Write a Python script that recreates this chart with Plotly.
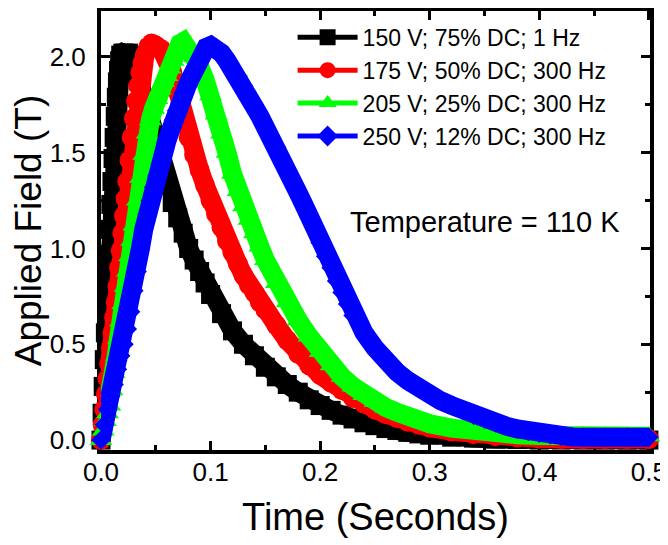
"""
Applied field pulses at 110 K for four drive settings.
"""

import plotly.graph_objects as go


# =============================================================================
# DATA
# =============================================================================

t_black = [0, .001, .002, .003, .004, .005, .006, .007, .008, .009, .010, .011, .012, .013, .014,
           .015, .016, .017, .018, .020, .022, .025, .028, .030, .033, .036, .040, .045,
           .050, .055, .060, .065, .070, .075, .080, .085, .090, .095,
           .10, .11, .12, .13, .14, .15, .16, .17, .18, .19, .20, .21, .22, .23, .24, .25,
           .26, .27, .28, .29, .30, .32, .34, .36, .38, .40, .42, .44, .46, .48, .50]
y_black = [0, .14, .28, .42, .56, .70, .84, .97, 1.10, 1.23, 1.35, 1.47, 1.58, 1.69, 1.79,
           1.87, 1.93, 1.98, 2.01, 2.02, 2.02, 2.02, 2.0, 1.97, 1.91, 1.84, 1.75, 1.63,
           1.52, 1.42, 1.33, 1.24, 1.16, 1.08, 1.0, .94, .88, .82,
           .76, .66, .57, .50, .44, .38, .33, .29, .25, .21, .18, .155, .13, .11, .09, .075,
           .06, .05, .04, .032, .025, .015, .01, .005, .003, 0, 0, 0, 0, 0, 0]

t_red = [0, .0015, .003, .0045, .006, .0075, .009, .0105, .012, .0135, .015, .0165, .018,
         .0195, .021, .0225, .024, .026, .028, .030, .032, .034, .036, .038, .040, .043, .046,
         .050, .055, .060, .065, .070, .075, .080, .085, .090, .095, .100, .105, .110, .115,
         .120, .125, .130, .135, .140, .145, .150,
         .16, .17, .18, .19, .20, .21, .22, .23, .24, .25, .26, .27, .28, .29, .30,
         .32, .34, .36, .38, .40, .42, .44, .46, .48, .50]
y_red = [0, .08, .16, .24, .32, .40, .48, .56, .64, .72, .80, .90, .99,
         1.08, 1.17, 1.26, 1.35, 1.46, 1.58, 1.68, 1.77, 1.85, 1.92, 1.97, 2.01, 2.05, 2.07,
         2.06, 2.04, 2.0, 1.92, 1.82, 1.70, 1.58, 1.49, 1.41, 1.33, 1.25, 1.18, 1.11, 1.04,
         .98, .92, .86, .81, .77, .72, .68,
         .60, .52, .45, .39, .34, .30, .26, .22, .19, .16, .135, .115, .095, .08, .065,
         .045, .03, .02, .013, .008, .005, .005, .005, .005, .005]

t_green = [0, .002, .004, .006, .008, .010, .012, .014, .016, .018, .020, .022, .024, .026,
           .028, .030, .033, .036, .039, .042, .045, .048, .051, .054, .057, .060, .063, .066,
           .069, .072, .075, .078, .081, .085, .090, .095, .100, .105, .110, .115, .120, .125,
           .130, .135, .140, .145, .150,
           .16, .17, .18, .19, .20, .21, .22, .23, .24, .25, .26, .27, .28, .29, .30,
           .32, .34, .36, .38, .40, .42, .44, .46, .48, .50]
y_green = [0, .05, .10, .14, .18, .26, .35, .44, .53, .62, .71, .80, .88, .96,
           1.04, 1.12, 1.25, 1.37, 1.49, 1.60, 1.67, 1.73, 1.78, 1.83, 1.87, 1.90, 1.94, 1.98,
           2.03, 2.07, 2.08, 2.06, 2.03, 2.0, 1.95, 1.88, 1.80, 1.70, 1.60, 1.50, 1.39, 1.30,
           1.22, 1.15, 1.08, 1.01, .94,
           .82, .72, .625, .54, .46, .39, .33, .28, .235, .20, .17, .145, .12, .10, .085,
           .062, .045, .035, .028, .024, .022, .02, .02, .02, .02]

t_blue = [0, .003, .006, .009, .012, .015, .018, .021, .024, .027, .030, .033, .036, .039,
          .042, .045, .048, .051, .054, .057, .060, .063, .066, .069, .072, .075, .078, .081,
          .084, .087, .090, .093, .096, .100,
          .105, .110, .115, .120, .125, .130, .135, .140, .145, .150, .155, .160, .165, .170,
          .175, .180, .185, .190, .195, .200, .205, .210, .215, .220, .225, .230,
          .24, .25, .26, .27, .28, .29, .30, .31, .32, .33, .34, .35, .36, .37, .38, .39,
          .40, .41, .42, .43, .44, .45, .46, .47, .48, .49, .50]
y_blue = [0, .08, .16, .23, .29, .37, .44, .50, .58, .67, .78, .88, 1.0, 1.1,
          1.18, 1.25, 1.32, 1.38, 1.44, 1.50, 1.56, 1.61, 1.67, 1.72, 1.76, 1.80, 1.84, 1.88,
          1.92, 1.95, 1.98, 2.02, 2.05, 2.06,
          2.05, 2.02, 1.98, 1.94, 1.90, 1.85, 1.79, 1.74, 1.69, 1.64, 1.58, 1.53, 1.47, 1.41,
          1.35, 1.29, 1.23, 1.17, 1.10, 1.03, .96, .90, .83, .77, .71, .65,
          .56, .48, .41, .355, .31, .27, .235, .205, .18, .155, .13, .11, .09, .072, .058, .045,
          .035, .027, .02, .016, .015, .015, .015, .015, .015, .015, .015]

series_names = ['150 V; 75% DC; 1 Hz', '175 V; 50% DC; 300 Hz',
                '205 V; 25% DC; 300 Hz', '250 V; 12% DC; 300 Hz']
x_ticks = [0.0, 0.1, 0.2, 0.3, 0.4, 0.5]
y_ticks = [0.0, 0.5, 1.0, 1.5, 2.0]


# =============================================================================
# FIGURE
# =============================================================================

FONT = 'Arial, Liberation Sans, sans-serif'

styles = [
    dict(color='#000000', symbol='square', size=19),
    dict(color='#ff0000', symbol='circle', size=20),
    dict(color='#00ff00', symbol='triangle-up', size=20),
    dict(color='#0000ff', symbol='diamond', size=15),
]
all_data = [(t_black, y_black), (t_red, y_red), (t_green, y_green), (t_blue, y_blue)]

fig = go.Figure()

# dense data -> thick line under the markers so each pulse reads as a solid band
for (t, y), name, st in zip(all_data, series_names, styles):
    fig.add_trace(go.Scatter(
        x=t, y=y, name=name, mode='lines+markers', cliponaxis=False, showlegend=False,
        line=dict(color=st['color'], width=19),
        marker=dict(color=st['color'], symbol=st['symbol'], size=st['size'], line=dict(width=0)),
    ))

# legend entries with the thin line + symbol look
for name, st in zip(series_names, styles):
    fig.add_trace(go.Scatter(
        x=[None], y=[None], name=name, mode='lines+markers',
        line=dict(color=st['color'], width=5),
        marker=dict(color=st['color'], symbol=st['symbol'], size=16, line=dict(width=0)),
    ))

fig.add_annotation(x=0.35, y=1.14, xref='x', yref='y', text='Temperature = 110 K',
                   showarrow=False, font=dict(family=FONT, size=29, color='black'))

axis_common = dict(
    showline=True, linewidth=4, linecolor='black', mirror='allticks',
    ticks='inside', ticklen=9, tickwidth=3, tickcolor='black',
    showgrid=False, zeroline=False, layer='below traces', automargin=False,
    tickfont=dict(family=FONT, size=26, color='black'),
    tickformat='.1f',
)

fig.update_xaxes(range=[0, 0.501], tickvals=x_ticks, ticklabelstandoff=-4,
                 minor=dict(dtick=0.05, ticks='inside', ticklen=5, tickwidth=3, tickcolor='black'),
                 title=dict(text='Time (Seconds)', font=dict(family=FONT, size=38, color='black'), standoff=18),
                 **axis_common)
fig.update_yaxes(range=[-0.052, 2.24], tickvals=y_ticks, ticklabelstandoff=6,
                 minor=dict(dtick=0.25, tick0=0, ticks='inside', ticklen=5, tickwidth=3, tickcolor='black'),
                 title=dict(text='Applied Field (T)', font=dict(family=FONT, size=37, color='black'), standoff=4),
                 **axis_common)

# the page body adds an 8 px margin, so the figure is made 8 px smaller and
# the left/top margins shrink by 8 px to keep the plot frame where it belongs
fig.update_layout(
    width=660, height=537,
    margin=dict(l=93, r=18, t=3, b=95),
    plot_bgcolor='white', paper_bgcolor='white',
    font=dict(family=FONT, color='black'),
    legend=dict(x=0.349, y=0.989, xanchor='left', yanchor='top', bgcolor='rgba(0,0,0,0)',
                font=dict(family=FONT, size=23, color='black'), itemwidth=60),
)

fig.write_html("out.html")
